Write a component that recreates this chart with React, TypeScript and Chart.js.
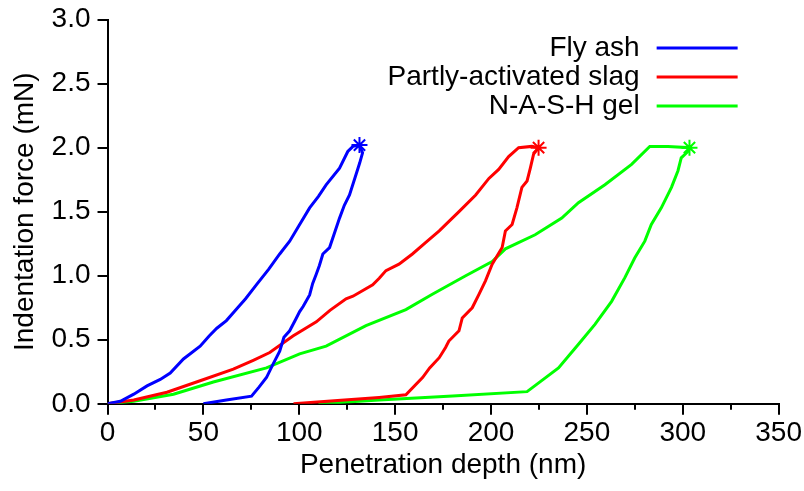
import React, { useEffect, useRef } from "react";
import { Chart, registerables } from "chart.js";

Chart.register(...registerables);

const seriesNames = ["Fly ash", "Partly-activated slag", "N-A-S-H gel"];
const seriesColors = ["#0000ff", "#ff0000", "#00ff00"];

const flyAshDepth = [0, 6.7, 13.7, 20.6, 27.5, 32.7, 39.6, 48.3, 53, 57, 62, 67.3, 72, 77.7, 84, 89.8, 95, 100.2, 105.4, 110, 114, 121, 125.3, 128, 131.4,
  133, 131.5, 129.6, 126.2, 123.5, 121, 118.5, 115.8, 112.3, 110.5, 108.8, 107, 105.4, 102, 100.2, 98.5, 95, 92, 89.8, 86, 82.9, 79, 75.1, 62, 50];
const flyAshForce = [0, 0.02, 0.075, 0.14, 0.19, 0.24, 0.35, 0.45, 0.53, 0.59, 0.65, 0.74, 0.82, 0.93, 1.05, 1.17, 1.27, 1.4, 1.53, 1.62, 1.71, 1.84, 1.97, 2.01, 2.02,
  1.96, 1.88, 1.79, 1.63, 1.55, 1.45, 1.34, 1.22, 1.17, 1.08, 1.01, 0.94, 0.85, 0.76, 0.72, 0.67, 0.57, 0.52, 0.41, 0.3, 0.205, 0.13, 0.06, 0.03, 0];

const slagDepth = [0, 13.7, 31, 48.3, 65.6, 76, 84.6, 96.7, 108.9, 116, 124.4, 128, 138.3, 141.7, 145.2, 152, 159, 166, 173, 183.3, 192, 198.9, 204, 209.2, 214.4, 221.3, 224.8,
  222.2, 220.5, 218.8, 216.1, 213.5, 211, 207.5, 205.8, 200.6, 197.1, 193.7, 190.2, 185, 183.3, 178, 176.3, 173, 168, 164.3, 155.6, 141.7, 120, 97];
const slagForce = [0, 0.03, 0.09, 0.18, 0.27, 0.34, 0.4, 0.53, 0.64, 0.73, 0.82, 0.84, 0.93, 0.98, 1.04, 1.09, 1.17, 1.26, 1.35, 1.5, 1.63, 1.76, 1.83, 1.93, 2.0, 2.01, 2.0,
  1.95, 1.84, 1.74, 1.69, 1.53, 1.4, 1.35, 1.22, 1.09, 0.96, 0.855, 0.75, 0.67, 0.57, 0.49, 0.44, 0.36, 0.28, 0.205, 0.07, 0.05, 0.025, 0];

const nashDepth = [0, 13.7, 34.4, 55.2, 82.9, 100.2, 114, 134.8, 155.6, 169.4, 186.8, 200.6, 207.5, 223, 236.9, 245.6, 259.4, 273.3, 282.8, 292.3, 303.5,
  302.7, 299.2, 297.5, 294.1, 288.8, 283.6, 280.2, 275, 269.8, 262.9, 254.2, 245.6, 235.2, 218.8, 180, 141.7, 110];
const nashForce = [0, 0.02, 0.075, 0.17, 0.28, 0.39, 0.45, 0.61, 0.735, 0.855, 1.0, 1.11, 1.21, 1.32, 1.45, 1.57, 1.71, 1.87, 2.01, 2.01, 2.0,
  1.97, 1.92, 1.82, 1.69, 1.53, 1.4, 1.27, 1.14, 0.985, 0.8, 0.62, 0.465, 0.28, 0.095, 0.06, 0.03, 0];

const xMajorTicks = [0, 50, 100, 150, 200, 250, 300, 350];
const xMinorTicks = [25, 75, 125, 175, 225, 275, 325];
const yTicks = [0, 0.5, 1.0, 1.5, 2.0, 2.5, 3.0];

const FONT = '"Liberation Sans", Arial, sans-serif';

function toPoints(xs: number[], ys: number[]) {
  return xs.map((x, i) => ({ x, y: ys[i] }));
}

// turnaround point: the deepest point among those at the maximum load
function peakIndex(xs: number[], ys: number[]) {
  const maxY = Math.max(...ys);
  let k = -1;
  xs.forEach((v, i) => {
    if (ys[i] >= maxY - 0.02 && (k < 0 || v > xs[k])) k = i;
  });
  return k;
}

const overlayPlugin = {
  id: "overlay",
  afterDraw(chart: any) {
    const { ctx, chartArea } = chart;
    const xs = chart.scales.x;
    ctx.save();
    ctx.strokeStyle = "#000";
    ctx.lineWidth = 2;
    for (const v of xMinorTicks) {
      const px = Math.round(xs.getPixelForValue(v));
      ctx.beginPath();
      ctx.moveTo(px, chartArea.bottom);
      ctx.lineTo(px, chartArea.bottom + 6);
      ctx.stroke();
    }
    ctx.font = `28px ${FONT}`;
    ctx.textAlign = "right";
    ctx.textBaseline = "middle";
    seriesNames.forEach((name, i) => {
      const y = chartArea.top + 28.5 + i * 29;
      ctx.fillStyle = "#000";
      ctx.fillText(name, chartArea.right - 139, y);
      ctx.strokeStyle = seriesColors[i];
      ctx.lineWidth = 3;
      ctx.beginPath();
      ctx.moveTo(chartArea.right - 122, y);
      ctx.lineTo(chartArea.right - 41, y);
      ctx.stroke();
    });
    ctx.restore();
  },
};

export default function App() {
  const ref = useRef<HTMLCanvasElement | null>(null);
  useEffect(() => {
    if (!ref.current) return;
    const sets = [
      [flyAshDepth, flyAshForce],
      [slagDepth, slagForce],
      [nashDepth, nashForce],
    ];
    const chart = new Chart(ref.current, {
      type: "scatter",
      data: {
        datasets: sets.map(([xs, ys], i) => {
          const pk = peakIndex(xs, ys);
          return {
            label: seriesNames[i],
            data: toPoints(xs, ys),
            showLine: true,
            borderColor: seriesColors[i],
            backgroundColor: seriesColors[i],
            borderWidth: 3,
            pointStyle: "star",
            pointRadius: (c: any) => (c.dataIndex === pk ? 8 : 0),
            pointBorderWidth: 2,
            pointHoverRadius: 0,
            tension: 0,
          };
        }),
      },
      options: {
        animation: false,
        responsive: true,
        maintainAspectRatio: false,
        layout: { padding: { left: 0, right: -3, top: 0, bottom: 0 } },
        plugins: { legend: { display: false }, tooltip: { enabled: false } },
        scales: {
          x: {
            type: "linear",
            min: 0,
            max: 350,
            afterBuildTicks: (s: any) => { s.ticks = xMajorTicks.map((v) => ({ value: v })); },
            border: { color: "#000", width: 2 },
            grid: { drawOnChartArea: false, color: "#000", lineWidth: 2, tickLength: 11 },
            ticks: { color: "#000", font: { family: FONT, size: 28 }, padding: 2, maxRotation: 0 },
            title: { display: true, text: "Penetration depth (nm)", color: "#000", font: { family: FONT, size: 28 }, padding: { top: -4, bottom: 9 } },
          },
          y: {
            type: "linear",
            min: 0,
            max: 3,
            afterBuildTicks: (s: any) => { s.ticks = yTicks.map((v) => ({ value: v })); },
            border: { color: "#000", width: 2 },
            grid: { drawOnChartArea: false, color: "#000", lineWidth: 2, tickLength: 10 },
            ticks: { color: "#000", font: { family: FONT, size: 28, lineHeight: 0.9 }, padding: 7, callback: (v: any) => Number(v).toFixed(1) },
            title: { display: true, text: "Indentation force (mN)", color: "#000", font: { family: FONT, size: 28 }, padding: { top: 8, bottom: 3 } },
          },
        },
      },
      plugins: [overlayPlugin],
    });
    return () => chart.destroy();
  }, []);
  return (
    <div style={{ position: "fixed", left: 0, top: 0, width: 804, height: 491, background: "#fff" }}>
      <canvas ref={ref} />
    </div>
  );
}
